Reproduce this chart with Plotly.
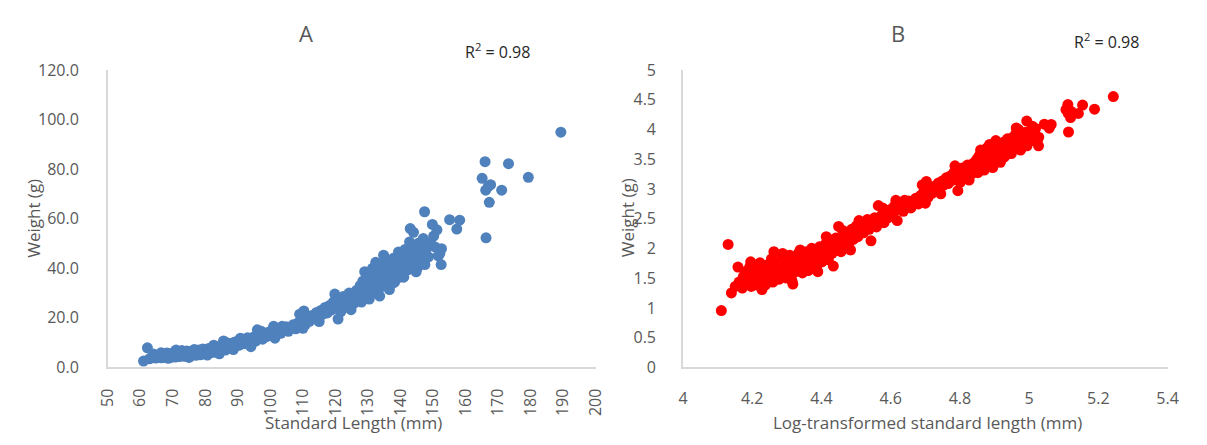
import numpy as np
import plotly.graph_objects as go

# Panel A data: standard length (mm) and weight (g)
standard_length = [
    61.0, 62.2, 62.8, 63.5, 64.0, 64.2, 64.8, 65.0, 65.3, 65.6, 66.0, 66.2, 66.5, 66.8, 67.0, 67.2,
    67.5, 67.8, 68.0, 68.2, 68.5, 68.8, 69.0, 69.3, 69.6, 70.0, 70.2, 70.5, 70.8, 71.0, 71.2, 71.5,
    71.8, 72.0, 72.3, 72.6, 72.9, 73.2, 73.5, 73.8, 74.0, 74.3, 74.6, 74.9, 75.0, 75.3, 75.6, 75.9,
    76.2, 76.5, 76.8, 77.1, 77.4, 77.7, 78.0, 78.3, 78.6, 78.9, 79.2, 79.5, 79.8, 80.1, 80.4, 80.7,
    81.0, 81.3, 81.6, 81.9, 82.2, 82.5, 82.8, 83.1, 83.4, 83.7, 84.0, 84.3, 84.6, 84.9, 85.2, 85.6,
    85.9, 86.2, 86.5, 86.9, 87.3, 87.7, 88.1, 88.5, 88.9, 89.3, 89.7, 90.1, 90.5, 91.0, 91.5, 92.0,
    92.5, 93.0, 93.5, 94.0, 94.4, 95.0, 95.5, 96.0, 96.4, 97.0, 97.6, 98.2, 98.8, 99.4, 100.0, 100.5,
    101.0, 101.4, 102.0, 102.6, 103.2, 104.0, 104.8, 105.5, 106.2, 107.0, 107.8, 108.5, 109.0, 109.5,
    110.0, 110.3, 110.8, 111.5, 112.0, 112.8, 113.5, 114.2, 115.0, 115.5, 116.0, 116.8, 117.5, 118.2,
    118.8, 119.4, 119.8, 120.2, 120.8, 121.2, 121.8, 122.4, 123.0, 123.6, 124.2, 124.8, 125.2, 125.8,
    126.4, 127.0, 127.6, 128.0, 128.6, 129.0, 129.2, 129.8, 130.2, 130.6, 131.0, 131.4, 131.8, 132.2,
    132.6, 133.0, 133.6, 134.0, 134.4, 134.8, 135.0, 135.4, 135.8, 136.2, 136.6, 137.0, 137.4, 137.8,
    138.2, 138.6, 139.0, 139.4, 139.8, 140.2, 140.6, 141.0, 141.4, 141.8, 142.2, 142.6, 143.0, 143.4,
    143.8, 144.0, 144.4, 144.8, 145.2, 145.6, 146.0, 146.5, 147.0, 147.4, 147.5, 148.0, 148.6, 149.2,
    149.8, 150.2, 150.6, 151.2, 151.6, 152.1, 152.5, 152.6, 155.1, 157.3, 158.2, 165.1, 166.0, 166.2,
    166.3, 167.0, 167.3, 167.7, 171.1, 173.2, 179.3, 189.3,
    # extra fish in the dense parts of the cloud
    66.4, 68.6, 70.4, 72.8, 74.8, 76.6, 78.4, 80.6, 82.6, 84.4, 86.6, 88.6, 90.8, 93.4, 97.2, 103.6,
    121.6, 124.6, 126.8, 128.4, 130.4, 132.4, 133.2, 134.6, 136.4, 137.6, 139.2, 140.4, 141.6, 142.8,
    144.2, 145.8,
]
weight = [
    2.6, 7.9, 3.5, 3.9, 5.4, 4.2, 3.8, 4.6, 5.0, 4.1, 4.4, 5.4, 3.9, 4.8, 5.6, 4.3,
    4.0, 5.1, 4.6, 5.8, 4.2, 5.3, 4.8, 4.0, 5.6, 4.5, 5.1, 6.2, 4.2, 7.0, 5.4, 4.7,
    5.9, 4.4, 5.2, 6.3, 4.8, 5.6, 4.5, 6.0, 5.1, 6.6, 4.6, 5.5, 4.06, 6.2, 5.0, 5.8,
    6.8, 5.3, 6.1, 4.9, 6.5, 5.6, 7.0, 6.0, 5.2, 6.6, 7.4, 5.8, 6.3, 7.1, 5.5, 6.8,
    7.6, 6.2, 5.9, 7.2, 6.6, 8.0, 7.0, 6.1, 7.6, 8.4, 6.8, 5.5, 7.9, 8.8, 7.2, 10.7,
    8.2, 7.0, 9.0, 7.8, 8.6, 9.6, 8.0, 9.2, 10.2, 8.6, 9.8, 10.8, 9.0, 10.2, 11.2, 9.6,
    10.8, 12.0, 10.2, 8.4, 11.4, 12.4, 10.6, 15.2, 12.0, 13.0, 11.4, 13.6, 12.4, 14.2, 13.0, 15.0,
    16.6, 11.8, 14.2, 15.6, 13.8, 15.0, 16.4, 14.6, 16.0, 17.2, 15.6, 18.0, 21.5, 19.2,
    15.8, 22.8, 17.4, 20.0, 18.6, 21.0, 19.6, 22.2, 18.5, 23.0, 21.4, 24.2, 22.0, 25.0,
    23.2, 26.4, 29.6, 24.4, 19.5, 27.2, 25.6, 28.6, 24.2, 27.0, 30.0, 23.3, 28.2, 26.0,
    31.0, 28.4, 33.0, 26.4, 30.4, 38.6, 34.2, 28.0, 31.8, 36.4, 29.6, 40.0, 33.4, 38.0,
    30.8, 35.4, 28.8, 41.8, 37.0, 45.3, 33.0, 39.2, 43.4, 35.6, 31.4, 40.6, 37.6, 44.0,
    34.4, 42.0, 38.8, 46.6, 36.4, 43.2, 40.0, 36.4, 47.6, 42.4, 39.4, 45.2, 56.0, 41.6,
    48.4, 54.5, 44.6, 38.6, 40.2, 50.2, 46.0, 42.8, 52.0, 62.8, 41.5, 48.0, 44.6, 50.4,
    57.7, 53.0, 48.6, 55.5, 45.0, 46.0, 41.5, 47.9, 59.6, 55.8, 59.4, 76.3, 83.0, 71.5,
    52.3, 73.0, 66.6, 73.7, 71.5, 82.2, 76.7, 94.9,
    5.9, 3.7, 5.7, 6.8, 4.3, 7.2, 5.1, 5.0, 9.0, 7.3, 10.0, 7.2, 11.8, 11.2, 14.6, 16.6,
    22.4, 25.8, 30.2, 34.8, 27.6, 42.4, 31.2, 39.8, 42.6, 34.0, 43.6, 38.0, 44.6, 50.6,
    42.0, 47.6,
]

# Panel B: the same fish, log-transformed
log_length = np.log(standard_length)
log_weight = np.log(weight)

a_xticks = list(range(50, 201, 10))
a_yticks = [0, 20, 40, 60, 80, 100, 120]
b_xticks = [4, 4.2, 4.4, 4.6, 4.8, 5, 5.2, 5.4]
b_yticks = [0, 0.5, 1, 1.5, 2, 2.5, 3, 3.5, 4, 4.5, 5]

W, H = 1207, 445
FONT = "Open Sans"
GREY = "#595959"
AXIS = "#d9d9d9"

fig = go.Figure()
fig.add_trace(go.Scatter(x=standard_length, y=weight, mode="markers",
                         marker=dict(color="#4f81bd", size=11, line=dict(width=0)),
                         xaxis="x", yaxis="y", showlegend=False))
fig.add_trace(go.Scatter(x=log_length, y=log_weight, mode="markers",
                         marker=dict(color="#ff0000", size=11, line=dict(width=0)),
                         xaxis="x2", yaxis="y2", showlegend=False))

ybot = (H - 375) / H
ytop = (H - 62) / H
axcommon = dict(showgrid=False, zeroline=False, showline=True, linecolor=AXIS, linewidth=1.5,
                ticks="", tickfont=dict(family=FONT, size=16, color=GREY))

fig.update_layout(
    width=W, height=H, margin=dict(l=0, r=0, t=0, b=0),
    paper_bgcolor="white", plot_bgcolor="white",
    xaxis=dict(domain=[97.6 / W, 595 / W], range=[50, 200], tickvals=a_xticks,
               tickangle=-90, anchor="y", ticklabelstandoff=13, **axcommon),
    yaxis=dict(domain=[ybot, ytop], range=[0, 120], tickvals=a_yticks,
               ticktext=[f"{v:.1f}" for v in a_yticks], anchor="x", ticklabelstandoff=24, **axcommon),
    xaxis2=dict(domain=[684 / W, 1178 / W], range=[4, 5.4], tickvals=b_xticks,
                ticktext=[f"{v:g}" for v in b_xticks], anchor="y2", ticklabelstandoff=16, **axcommon),
    yaxis2=dict(domain=[ybot, ytop], range=[0, 5], tickvals=b_yticks,
                ticktext=[f"{v:g}" for v in b_yticks], anchor="x2", ticklabelstandoff=22, **axcommon),
)

def ann(text, x, y, size, color=GREY, angle=0):
    fig.add_annotation(text=text, x=x / W, y=1 - y / H, xref="paper", yref="paper",
                       showarrow=False, textangle=angle, xanchor="center", yanchor="middle",
                       font=dict(family=FONT, size=size, color=color))

ann("A", 300, 23, 22)
ann("B", 903, 23, 22)
ann("R<sup>2</sup> = 0.98", 495, 42, 16, color="#262626")
ann("R<sup>2</sup> = 0.98", 1116, 32, 16, color="#262626")
ann("Standard Length (mm)", 348, 433, 17)
ann("Log-transformed standard length (mm)", 933, 433, 17)
ann("Weight (g)", 22, 218, 17, angle=-90)
ann("Weight (g)", 627, 218, 17, angle=-90)

fig.write_html("out.html")
